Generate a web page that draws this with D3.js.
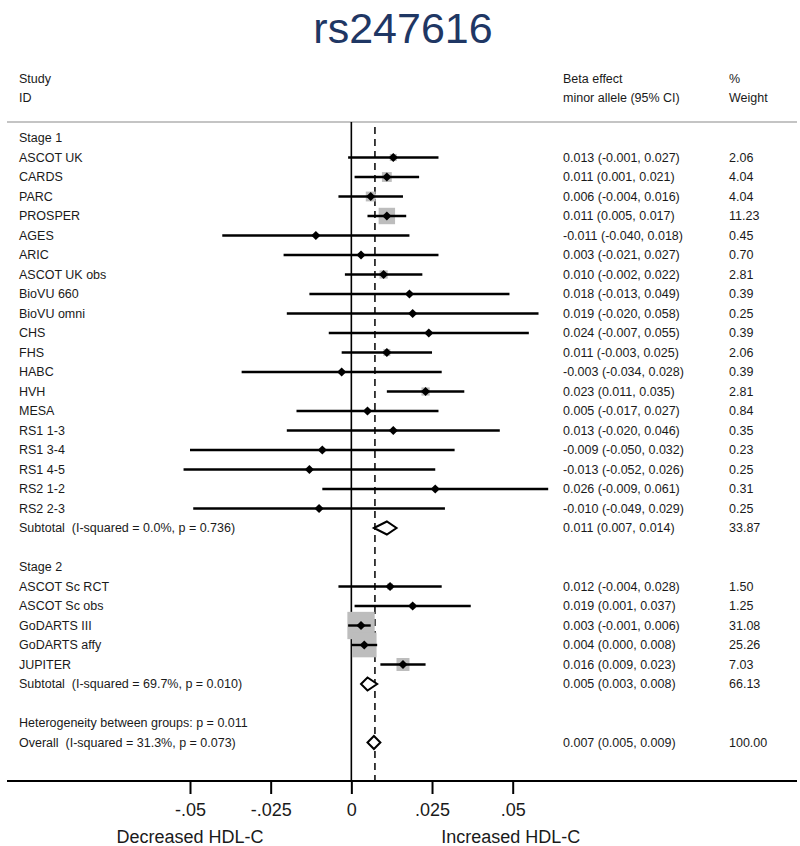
<!DOCTYPE html>
<html><head><meta charset="utf-8">
<script src="https://cdn.jsdelivr.net/npm/d3@7"></script>
<style>
html,body{margin:0;padding:0;background:#fff;}
text{font-family:"Liberation Sans",Arial,sans-serif;}
</style></head>
<body>
<svg id="chart" width="800" height="846"></svg>
<script>
const title = "rs247616";
const stage1Names = ["ASCOT UK","CARDS","PARC","PROSPER","AGES","ARIC","ASCOT UK obs","BioVU 660","BioVU omni","CHS","FHS","HABC","HVH","MESA","RS1 1-3","RS1 3-4","RS1 4-5","RS2 1-2","RS2 2-3"];
const stage1Beta  = [0.013,0.011,0.006,0.011,-0.011,0.003,0.010,0.018,0.019,0.024,0.011,-0.003,0.023,0.005,0.013,-0.009,-0.013,0.026,-0.010];
const stage1Lower = [-0.001,0.001,-0.004,0.005,-0.040,-0.021,-0.002,-0.013,-0.020,-0.007,-0.003,-0.034,0.011,-0.017,-0.020,-0.050,-0.052,-0.009,-0.049];
const stage1Upper = [0.027,0.021,0.016,0.017,0.018,0.027,0.022,0.049,0.058,0.055,0.025,0.028,0.035,0.027,0.046,0.032,0.026,0.061,0.029];
const stage1Weight = [2.06,4.04,4.04,11.23,0.45,0.70,2.81,0.39,0.25,0.39,2.06,0.39,2.81,0.84,0.35,0.23,0.25,0.31,0.25];
const stage1Subtotal = {label:"Subtotal  (I-squared = 0.0%, p = 0.736)", beta:0.011, lower:0.007, upper:0.014, weight:33.87};

const stage2Names = ["ASCOT Sc RCT","ASCOT Sc obs","GoDARTS III","GoDARTS affy","JUPITER"];
const stage2Beta  = [0.012,0.019,0.003,0.004,0.016];
const stage2Lower = [-0.004,0.001,-0.001,0.000,0.009];
const stage2Upper = [0.028,0.037,0.006,0.008,0.023];
const stage2Weight = [1.50,1.25,31.08,25.26,7.03];
const stage2Subtotal = {label:"Subtotal  (I-squared = 69.7%, p = 0.010)", beta:0.005, lower:0.003, upper:0.008, weight:66.13};

const heterogeneityText = "Heterogeneity between groups: p = 0.011";
const overall = {label:"Overall  (I-squared = 31.3%, p = 0.073)", beta:0.007, lower:0.005, upper:0.009, weight:100.00};

const xTicks = [-0.05,-0.025,0,0.025,0.05];
const xTickLabels = ["-.05","-.025","0",".025",".05"];
const leftAxisLabel = "Decreased HDL-C";
const rightAxisLabel = "Increased HDL-C";

// ---- build rows
const rows = [];
function addStage(name, names, beta, lo, hi, w, sub){
  rows.push({type:"header", label:name});
  names.forEach((n,i)=>rows.push({type:"study", label:n, beta:beta[i], lower:lo[i], upper:hi[i], weight:w[i]}));
  rows.push(Object.assign({type:"pooled"}, sub));
  rows.push({type:"blank"});
}
addStage("Stage 1", stage1Names, stage1Beta, stage1Lower, stage1Upper, stage1Weight, stage1Subtotal);
addStage("Stage 2", stage2Names, stage2Beta, stage2Lower, stage2Upper, stage2Weight, stage2Subtotal);
rows.push({type:"text", label:heterogeneityText});
rows.push(Object.assign({type:"pooled"}, overall));

const fmt3 = d3.format(".3f");
const fmtW = d3.format(".2f");
const ciText = d => `${fmt3(d.beta).replace("−","-")} (${fmt3(d.lower).replace("−","-")}, ${fmt3(d.upper).replace("−","-")})`;

const svg = d3.select("#chart");
const x = d3.scaleLinear().domain([-0.05,0.05]).range([190,512.7]);
const y = d3.scaleLinear().domain([0, rows.length-1]).range([138, 742.5]);
const boxSide = d3.scaleSqrt().domain([0,100]).range([0,49]);

const textColor = "#1a1a1a";
const fs = "12.5px";

// title
svg.append("text").attr("x",403).attr("y",43).attr("text-anchor","middle")
  .attr("font-size","43px").attr("fill","#1f3764").text(title);

// headers
const hdr = [["Study",19,79],["ID",19,98],["Beta effect",563,79],["minor allele (95% CI)",563,98],["%",729,79],["Weight",729,98]];
svg.selectAll("text.hdr").data(hdr).enter().append("text").attr("class","hdr")
  .attr("x",d=>d[1]).attr("y",d=>d[2]).attr("dy","0.35em").attr("font-size",fs).attr("fill",textColor).text(d=>d[0]);

// header separator
svg.append("line").attr("x1",7).attr("x2",797).attr("y1",122).attr("y2",122)
  .attr("stroke","#c4c4c4").attr("stroke-width",2);

const axisY = 781;
// zero line
svg.append("line").attr("x1",x(0)).attr("x2",x(0)).attr("y1",122).attr("y2",axisY)
  .attr("stroke","#000").attr("stroke-width",1.6);
// overall dashed line
svg.append("line").attr("x1",x(overall.beta)+1).attr("x2",x(overall.beta)+1).attr("y1",127).attr("y2",axisY)
  .attr("stroke","#000").attr("stroke-width",1.5).attr("stroke-dasharray","7,5");

// row labels
const rowsG = svg.append("g");
rows.forEach((r,i)=>{
  if(r.type==="blank") return;
  rowsG.append("text").attr("x",19).attr("y",y(i)).attr("dy","0.35em")
    .attr("font-size",fs).attr("fill",textColor).style("white-space","pre").text(r.label);
  if(r.type==="study"||r.type==="pooled"){
    rowsG.append("text").attr("x",563).attr("y",y(i)).attr("dy","0.35em")
      .attr("font-size",fs).attr("fill",textColor).text(ciText(r));
    rowsG.append("text").attr("x",729).attr("y",y(i)).attr("dy","0.35em")
      .attr("font-size",fs).attr("fill",textColor).text(fmtW(r.weight));
  }
});

// study marks
const studies = rows.map((r,i)=>Object.assign({i},r)).filter(r=>r.type==="study");
const marks = svg.append("g");
marks.selectAll("rect").data(studies).enter().append("rect")
  .attr("x",d=>x(d.beta)-boxSide(d.weight)/2).attr("y",d=>y(d.i)-boxSide(d.weight)/2)
  .attr("width",d=>boxSide(d.weight)).attr("height",d=>boxSide(d.weight))
  .attr("fill","#bdbdbd");
marks.selectAll("line").data(studies).enter().append("line")
  .attr("x1",d=>x(d.lower)).attr("x2",d=>x(d.upper)).attr("y1",d=>y(d.i)).attr("y2",d=>y(d.i))
  .attr("stroke","#000").attr("stroke-width",2.4);
marks.selectAll("path").data(studies).enter().append("path")
  .attr("d",d=>{const cx=x(d.beta), cy=y(d.i), h=4.6; return `M${cx},${cy-h}L${cx+h},${cy}L${cx},${cy+h}L${cx-h},${cy}Z`;})
  .attr("fill","#000");

// pooled diamonds
const pooled = rows.map((r,i)=>Object.assign({i},r)).filter(r=>r.type==="pooled");
svg.append("g").selectAll("path").data(pooled).enter().append("path")
  .attr("d",d=>{const cy=y(d.i), h=6.5; return `M${x(d.lower)},${cy}L${x(d.beta)},${cy-h}L${x(d.upper)},${cy}L${x(d.beta)},${cy+h}Z`;})
  .attr("fill","#fff").attr("stroke","#000").attr("stroke-width",2);

// x axis
svg.append("line").attr("x1",7).attr("x2",797).attr("y1",axisY).attr("y2",axisY)
  .attr("stroke","#000").attr("stroke-width",2);
const axisG = svg.append("g").attr("transform",`translate(0,${axisY})`)
  .call(d3.axisBottom(x).tickValues(xTicks).tickFormat((d,i)=>xTickLabels[i]).tickSize(13).tickPadding(9));
axisG.select(".domain").remove();
axisG.selectAll(".tick line").attr("stroke","#000").attr("stroke-width",2);
axisG.selectAll(".tick text").attr("font-size","18px").attr("fill",textColor)
  .attr("font-family","'Liberation Sans',Arial,sans-serif");

svg.append("text").attr("x",x(-0.05)).attr("y",837).attr("dy","0.35em").attr("text-anchor","middle")
  .attr("font-size","18px").attr("fill",textColor).text(leftAxisLabel);
svg.append("text").attr("x",x(0.05)-2).attr("y",837).attr("dy","0.35em").attr("text-anchor","middle")
  .attr("font-size","18px").attr("fill",textColor).text(rightAxisLabel);
</script>
</body></html>
